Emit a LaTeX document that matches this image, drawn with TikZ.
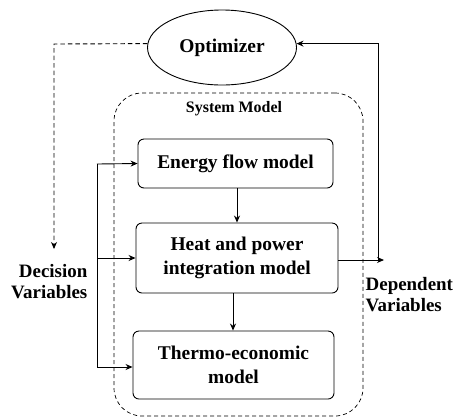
\documentclass[tikz,border=0pt]{standalone}
\usepackage{fontspec}
\setmainfont{Liberation Serif}
\usetikzlibrary{shapes.geometric,arrows.meta}
\begin{document}
\begin{tikzpicture}[x=1bp,y=-1bp,
  every node/.style={font=\bfseries\fontsize{19.5}{23.5}\selectfont},
  modelbox/.style={draw,rounded corners=6bp,line width=0.9bp,align=center,inner sep=0pt},
  sidelabel/.style={inner sep=0pt,font=\bfseries\fontsize{19}{21.5}\selectfont},
  arr/.style={line width=0.9bp,-{Stealth[length=7bp,width=6bp]}},
  darr/.style={arr,dash pattern=on 4.5bp off 3bp},
  plain/.style={line width=0.9bp}]
\useasboundingbox (0,0) rectangle (458,416);

% optimizer
\node[ellipse,draw,line width=0.9bp,minimum width=149bp,minimum height=75bp,inner sep=0pt] (opt) at (222,47.5) {Optimizer};

% system model frame
\node[draw,dash pattern=on 4bp off 3bp,line width=0.7bp,rounded corners=28bp,
      minimum width=249bp,minimum height=323bp,inner sep=0pt] (sys) at (238.5,254.5) {};
\node[font=\bfseries\fontsize{16}{19}\selectfont] (sysl) at (234,109) {System Model};

% model blocks
\node[modelbox,minimum width=195bp,minimum height=49bp] (ef) at (235.5,163.5) {Energy flow model};
\node[modelbox,minimum width=202bp,minimum height=70bp] (hp) at (237,258) {Heat and power\\integration model};
\node[modelbox,minimum width=201bp,minimum height=68bp] (te) at (233.5,365) {Thermo-economic\\model};

\draw[arr] (ef.south -| 237,0) -- (hp.north -| 237,0);
\draw[arr] (hp.south -| 233,0) -- (te.north -| 233,0);

% decision variables
\node[sidelabel,align=right,anchor=north east] (dec) at (87.5,264) {Decision\\Variables};
\coordinate (dtop) at (54,44);
\coordinate (dend) at (54,249);
\draw[darr] (opt.177) -- (dtop) -- (dend);

\coordinate (fa) at (97,164);
\coordinate (fb) at (97,367);
\draw[plain] (fa) -- (fb);
\draw[arr] (fa) -- (ef.west);
\draw[arr] (hp.west -| fa) -- (hp.west);
\draw[arr] (fb) -- (fb -| te.west);

% dependent variables
\node[sidelabel,align=left,anchor=north west] (dep) at (365.5,277) {Dependent\\Variables};
\coordinate (dout) at (384,260);
\coordinate (jn) at (378,260);
\draw[arr] (hp.east |- dout) -- (dout);
\draw[arr] (jn) |- (opt.3);
\end{tikzpicture}
\end{document}
